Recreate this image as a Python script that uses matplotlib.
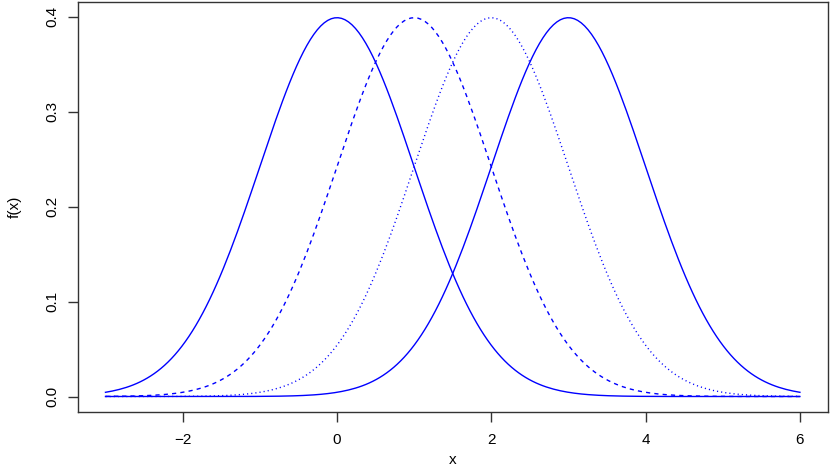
import numpy as np
import matplotlib
matplotlib.use("Agg")
import matplotlib.pyplot as plt

plt.rcParams['font.family'] = ['Liberation Sans', 'DejaVu Sans']

# Normal density curves: means and common sd
means = [0, 1, 2, 3]
sds = [1, 1, 1, 1]
styles = ['solid', 'dashed', 'dotted', 'solid']
x_from, x_to = -3, 6
xticks = [-2, 0, 2, 4, 6]
yticks = [0.0, 0.1, 0.2, 0.3, 0.4]
yticklabels = ['0.0', '0.1', '0.2', '0.3', '0.4']

fig = plt.figure(figsize=(8.3, 4.67), dpi=100)
ax = fig.add_axes([77.7/830, 55.3/467, 750/830, 410.2/467])

x = np.linspace(x_from, x_to, 201)
dash_map = {'solid': None, 'dashed': (0, (3.0, 3.0)), 'dotted': (0, (0.8, 2.2))}
for m, s, st in zip(means, sds, styles):
    y = np.exp(-0.5 * ((x - m) / s) ** 2) / (s * np.sqrt(2 * np.pi))
    ls = '-' if st == 'solid' else dash_map[st]
    ax.plot(x, y, color='#0000FF', lw=1.0, linestyle=ls)

ax.set_xlim(-3.36, 6.36)
ax.set_ylim(-0.016, 0.416)
ax.set_xticks(xticks)
ax.set_xticklabels([str(t).replace('-', '\u2212') for t in xticks])
ax.set_yticks(yticks)
ax.set_yticklabels(yticklabels, rotation=90, va='center')
ax.tick_params(axis='both', length=7, width=1.0, color='#333333', labelsize=11, pad=6)
ax.tick_params(axis='x', pad=8)
for sp in ax.spines.values():
    sp.set_color('#333333')
    sp.set_linewidth(1.0)

ax.set_xlabel('x', fontsize=11, labelpad=5)
ax.set_ylabel('f(x)', fontsize=11, labelpad=17)

fig.savefig('out.png', dpi=100)
